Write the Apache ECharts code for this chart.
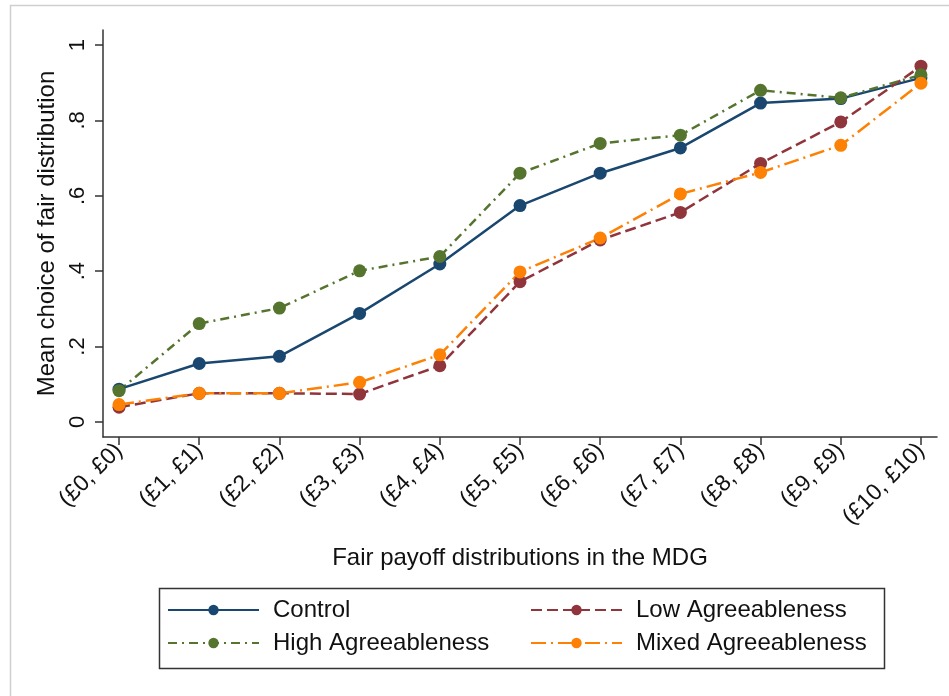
<!DOCTYPE html>
<html>
<head>
<meta charset="utf-8">
<script src="https://cdn.jsdelivr.net/npm/echarts@6/dist/echarts.min.js"></script>
<style>
html,body{margin:0;padding:0;background:#fff;}
#chart{width:949px;height:696px;}
</style>
</head>
<body>
<div id="chart"></div>
<script>
const categories = ['(£0, £0)','(£1, £1)','(£2, £2)','(£3, £3)','(£4, £4)','(£5, £5)','(£6, £6)','(£7, £7)','(£8, £8)','(£9, £9)','(£10, £10)'];
const controlValues = [0.087, 0.155, 0.174, 0.288, 0.419, 0.574, 0.660, 0.727, 0.846, 0.858, 0.913];
const lowValues     = [0.039, 0.076, 0.076, 0.074, 0.149, 0.372, 0.483, 0.556, 0.686, 0.796, 0.944];
const highValues    = [0.083, 0.261, 0.302, 0.401, 0.439, 0.660, 0.739, 0.761, 0.880, 0.860, 0.921];
const mixedValues   = [0.046, 0.076, 0.076, 0.105, 0.178, 0.398, 0.488, 0.605, 0.662, 0.734, 0.899];
const yTicks = [0, 0.2, 0.4, 0.6, 0.8, 1];
const yTickLabels = ['0', '.2', '.4', '.6', '.8', '1'];

const FONT = 'Liberation Sans, Arial, sans-serif';
const xIdx = categories.map((c, i) => i);
function pts(vals) { return vals.map((v, i) => [i, v]); }

function mkSeries(name, vals, color, dash) {
  return {
    name: name, type: 'line', data: pts(vals),
    symbol: 'circle', symbolSize: 13,
    itemStyle: { color: color },
    lineStyle: { color: color, width: 2.5, type: dash },
    emphasis: { disabled: true },
    animation: false
  };
}

const chart = echarts.init(document.getElementById('chart'));
chart.setOption({
  backgroundColor: '#fff',
  animation: false,
  grid: { left: 103, right: 12, top: 30, bottom: 259 },
  xAxis: {
    type: 'value', min: -0.2, max: 10.2,
    name: 'Fair payoff distributions in the MDG',
    nameLocation: 'middle', nameGap: 109,
    nameTextStyle: { fontFamily: FONT, fontSize: 24, color: '#111' },
    axisLine: { show: true, onZero: false, lineStyle: { color: '#333', width: 1.5 } },
    axisTick: { show: true, length: 8, customValues: xIdx, lineStyle: { color: '#333', width: 1.5 } },
    axisLabel: {
      customValues: xIdx, rotate: 45, margin: 10,
      fontFamily: FONT, fontSize: 23, color: '#111',
      formatter: v => categories[Math.round(v)]
    },
    splitLine: { show: false }
  },
  yAxis: {
    type: 'value', min: -0.04, max: 1.04,
    name: 'Mean choice of fair distribution',
    nameLocation: 'middle', nameGap: 41, nameRotate: 90,
    nameTextStyle: { fontFamily: FONT, fontSize: 24, color: '#111' },
    axisLine: { show: true, onZero: false, lineStyle: { color: '#333', width: 1.5 } },
    axisTick: { show: true, length: 8, customValues: yTicks, lineStyle: { color: '#333', width: 1.5 } },
    axisLabel: {
      customValues: yTicks, rotate: 90, margin: 14,
      fontFamily: FONT, fontSize: 22, color: '#111',
      formatter: v => { const i = yTicks.findIndex(t => Math.abs(t - v) < 1e-6); return i >= 0 ? yTickLabels[i] : ''; }
    },
    splitLine: { show: false }
  },
  legend: [
    {
      orient: 'vertical', left: 167, top: 598, padding: 0, itemWidth: 91, itemHeight: 13, itemGap: 9,
      data: ['Control', 'High Agreeableness'],
      textStyle: { fontFamily: FONT, fontSize: 24, color: '#111', lineHeight: 24, padding: [0, 0, 0, 9] },
      selectedMode: false
    },
    {
      orient: 'vertical', left: 530, top: 598, padding: 0, itemWidth: 91, itemHeight: 13, itemGap: 9,
      data: ['Low Agreeableness', 'Mixed Agreeableness'],
      textStyle: { fontFamily: FONT, fontSize: 24, color: '#111', lineHeight: 24, padding: [0, 0, 0, 9] },
      selectedMode: false
    }
  ],
  graphic: [
    { type: 'rect', left: 8, top: 3, shape: { width: 1000, height: 800 }, style: { fill: 'none', stroke: '#cfcfcf', lineWidth: 1.5 }, silent: true, z: -1 },
    { type: 'rect', left: 157, top: 586, shape: { width: 725, height: 80 }, style: { fill: 'none', stroke: '#333', lineWidth: 1.5 }, silent: true }
  ],
  series: [
    mkSeries('Control', controlValues, '#1a476f', 'solid'),
    mkSeries('Low Agreeableness', lowValues, '#90353b', [11, 5]),
    mkSeries('High Agreeableness', highValues, '#55752f', [9, 5, 2, 5]),
    mkSeries('Mixed Agreeableness', mixedValues, '#fd8105', [15, 5, 2, 5])
  ]
});
</script>
</body>
</html>
